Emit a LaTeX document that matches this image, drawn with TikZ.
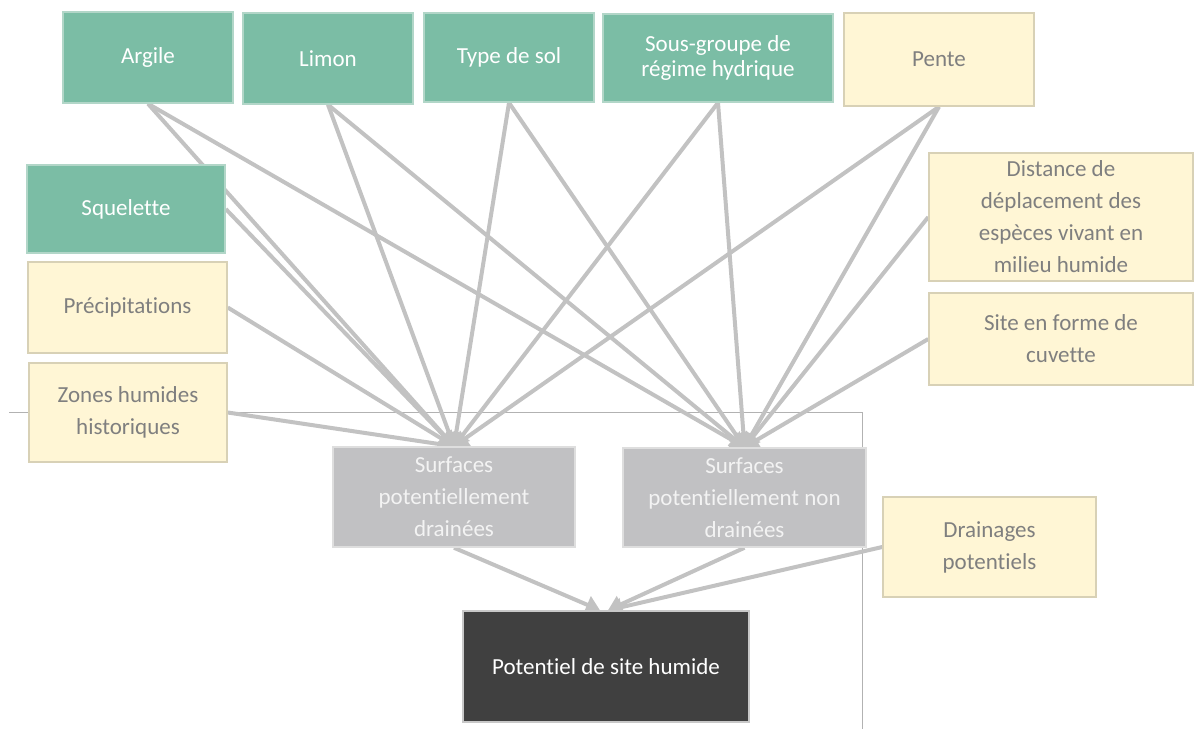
\documentclass[tikz,border=0pt]{standalone}
\usepackage{fontspec}
\setmainfont{Carlito}[Ligatures={NoCommon}]
\usetikzlibrary{arrows.meta}

\definecolor{soilfill}{RGB}{123,189,165}
\definecolor{soilline}{RGB}{178,214,200}
\definecolor{climfill}{RGB}{255,246,213}
\definecolor{climline}{RGB}{216,209,182}
\definecolor{midfill}{RGB}{193,193,195}
\definecolor{midline}{RGB}{222,222,222}
\definecolor{midtext}{RGB}{243,243,243}
\definecolor{darkfill}{RGB}{64,64,64}
\definecolor{darkline}{RGB}{200,200,200}
\definecolor{labelgray}{RGB}{127,127,127}
\definecolor{linkgray}{RGB}{194,194,194}
\definecolor{framegray}{RGB}{178,178,178}

\pgfdeclarelayer{bg}
\pgfsetlayers{bg,main}

\begin{document}
\begin{tikzpicture}[x=1pt,y=-1pt,
  box/.style={rectangle, inner sep=0pt, align=center,
    font=\fontsize{23}{32}\selectfont, line width=1.5pt},
  soil/.style={box, fill=soilfill, draw=soilline, text=white},
  clim/.style={box, fill=climfill, draw=climline, text=labelgray},
  mid/.style={box, fill=midfill, draw=midline, text=midtext},
  result/.style={box, fill=darkfill, draw=darkline, text=white},
  link/.style={draw=linkgray, line width=4pt},
  feed/.style={link, -{Triangle[width=18pt,length=14pt]}},
  sz/.style 2 args={minimum width=#1pt, minimum height=#2pt}
]
\useasboundingbox (0,0) rectangle (1194,729);

% soil inputs
\node[soil, sz={170}{91}] (arg) at (148,57.5) {Argile};
\node[soil, sz={170}{91}] (lim) at (328,58.5) {Limon};
\node[soil, sz={170}{89}] (typ) at (509,57.5) {Type de sol};
\node[soil, sz={230}{88}, font=\fontsize{23}{25}\selectfont] (sgr) at (718,58)
  {Sous-groupe de\\régime hydrique};
\node[soil, sz={198}{88}] (squ) at (126,209) {Squelette};

% other inputs
\node[clim, sz={190}{93}] (pen) at (939,59.5) {Pente};
\node[clim, sz={199}{91}] (pre) at (127.5,307.5) {Précipitations};
\node[clim, sz={198}{99}] (zon) at (128,412.5) {Zones humides\\historiques};
\node[clim, sz={264}{128}] (dis) at (1061,217)
  {Distance de\\déplacement des\\espèces vivant en\\milieu humide};
\node[clim, sz={264}{92}] (sit) at (1061,339) {Site en forme de\\cuvette};
\node[clim, sz={213}{100}] (dra) at (989.5,547) {Drainages\\potentiels};

% intermediate layers and result
\node[mid, sz={242}{100}] (sd) at (454,497)
  {Surfaces\\potentiellement\\drainées};
\node[mid, sz={243}{99}] (snd) at (744.5,497.5)
  {Surfaces\\potentiellement non\\drainées};
\node[result, sz={286}{111}] (pot) at (606,666.5) {Potentiel de site humide};

\begin{pgfonlayer}{bg}
  % frame around the lower part
  \draw[framegray, line width=1pt] (9,412) -- (862,412) -- (862,729);
  % inputs of the drained surfaces
  \foreach \s in {arg.south, lim.south, typ.south, sgr.south, pen.south,
                  squ.east, pre.east, zon.east}
    \draw[feed] (\s) -- (sd.north);
  % inputs of the undrained surfaces
  \foreach \s in {arg.south, lim.south, typ.south, sgr.south, pen.south,
                  dis.west, sit.west}
    \draw[feed] (\s) -- (snd.north);
  % toward the final potential
  \draw[feed] (sd.south) -- ([xshift=-6pt]pot.north);
  \draw[feed] (snd.south) -- ([xshift=2pt]pot.north);
  \draw[feed] (dra.west) -- ([xshift=2pt]pot.north);
\end{pgfonlayer}
\end{tikzpicture}
\end{document}
